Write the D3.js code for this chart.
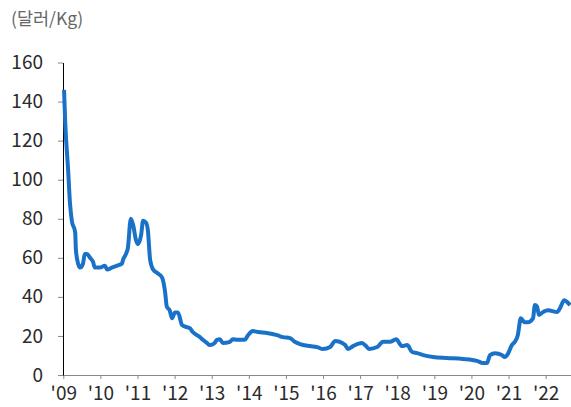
<!DOCTYPE html>
<html>
<head>
<meta charset="utf-8">
<script src="https://cdn.jsdelivr.net/npm/d3@7"></script>
<style>
  body { margin: 0; background: #fff; }
  svg text { font-family: "Noto Sans CJK KR", "Noto Sans", sans-serif; }
</style>
</head>
<body>
<svg id="chart" width="571" height="407"></svg>
<script>
// decimal years and price ($/kg)
let years = [2009.02, 2009.05, 2009.13, 2009.18, 2009.23, 2009.32, 2009.34, 2009.40, 2009.45, 2009.53,
  2009.58, 2009.64, 2009.72, 2009.80, 2009.85, 2009.99, 2010.12, 2010.18, 2010.31, 2010.45,
  2010.58, 2010.61, 2010.69, 2010.74, 2010.82, 2010.88, 2010.96, 2011.01, 2011.10, 2011.15,
  2011.23, 2011.28, 2011.34, 2011.42, 2011.55, 2011.66, 2011.74, 2011.79, 2011.87, 2011.93,
  2012.01, 2012.09, 2012.20, 2012.33, 2012.41, 2012.49, 2012.68, 2012.76, 2012.87, 2012.95,
  2013.08, 2013.14, 2013.22, 2013.30, 2013.49, 2013.57, 2013.70, 2013.89, 2013.98, 2014.11,
  2014.25, 2014.49, 2014.76, 2014.92, 2015.11, 2015.24, 2015.38, 2015.65, 2015.84, 2016.00,
  2016.19, 2016.33, 2016.52, 2016.60, 2016.67, 2016.81, 2017.05, 2017.16, 2017.24, 2017.46,
  2017.62, 2017.81, 2017.97, 2018.13, 2018.27, 2018.40, 2018.54, 2018.70, 2018.97, 2019.34,
  2019.77, 2020.15, 2020.31, 2020.42, 2020.50, 2020.64, 2020.82, 2020.90, 2020.98, 2021.09,
  2021.17, 2021.25, 2021.33, 2021.44, 2021.52, 2021.66, 2021.71, 2021.77, 2021.82, 2021.93,
  2022.06, 2022.31, 2022.39, 2022.50, 2022.58, 2022.66];
let prices = [146, 130, 105, 88, 79, 73, 64, 57, 55, 57,
  62, 62, 60, 58, 55, 55, 56, 54, 55, 56,
  57, 59, 62, 65, 80, 77, 69, 67, 72, 79,
  78, 74, 59, 54, 52, 50, 43, 35, 33, 29,
  32, 32, 25.6, 24.5, 24, 22, 19.5, 18, 16.4, 15.3,
  16.4, 18, 18.3, 16.4, 17, 18.3, 18, 18, 20.4, 22.5,
  22, 21.5, 20.4, 19.4, 18.9, 17, 15.8, 14.8, 14.3, 13.3,
  14.3, 17.4, 16.4, 15.3, 13.3, 14.8, 16.4, 14.8, 13.3, 14.3,
  17, 17, 18.3, 14.8, 15.3, 11.8, 11.2, 10.2, 9.2, 8.7,
  8.2, 7.2, 6.1, 6.1, 10.2, 11.2, 10.2, 9.2, 10.7, 15.3,
  17, 20.4, 29, 27, 27, 29, 35.8, 35, 30.7, 32.2,
  33.2, 32.2, 34.3, 38.3, 37.3, 35.8];
let xTicks = [2009, 2010, 2011, 2012, 2013, 2014, 2015, 2016, 2017, 2018, 2019, 2020, 2021, 2022];
let yTicks = [0, 20, 40, 60, 80, 100, 120, 140, 160];
let unitLabel = "(달러/Kg)";

let svg = d3.select("#chart");
let data = years.map((t, i) => ({t: t, v: prices[i]}));

let x = d3.scaleLinear().domain([2009, 2022.7]).range([63.3, 571.6]);
let y = d3.scaleLinear().domain([0, 160]).range([375, 62.5]);

// x axis
let xAxis = svg.append("g")
    .attr("transform", "translate(0,375)")
    .call(d3.axisBottom(x).tickValues(xTicks).tickSize(4).tickSizeOuter(0)
        .tickFormat(d => "'" + String(d).slice(2)));
xAxis.select(".domain").attr("stroke", "#8a8a8a").attr("d", "M63,0.5H571");
xAxis.selectAll(".tick line").attr("stroke", "#8a8a8a");
xAxis.selectAll(".tick text")
    .attr("y", 12)
    .attr("fill", "#2b2b2b")
    .style("font-size", "19px");

// y axis
let yAxis = svg.append("g")
    .attr("transform", "translate(63,0)")
    .call(d3.axisLeft(y).tickValues(yTicks).tickSize(5).tickSizeOuter(0));
yAxis.select(".domain").attr("stroke", "#000");
yAxis.selectAll(".tick line").attr("stroke", "#8a8a8a");
yAxis.selectAll(".tick text")
    .attr("x", -20)
    .attr("fill", "#2b2b2b")
    .style("font-size", "19px");

// unit label
svg.append("text")
    .attr("x", 11)
    .attr("y", 25)
    .attr("fill", "#666")
    .style("font-size", "17.5px")
    .text(unitLabel);

// line
let line = d3.line()
    .x(d => x(d.t))
    .y(d => y(d.v))
    .curve(d3.curveMonotoneX);

svg.append("path")
    .datum(data)
    .attr("fill", "none")
    .attr("stroke", "#1a72c8")
    .attr("stroke-width", 4)
    .attr("stroke-linejoin", "round")
    .attr("d", line);
</script>
</body>
</html>
